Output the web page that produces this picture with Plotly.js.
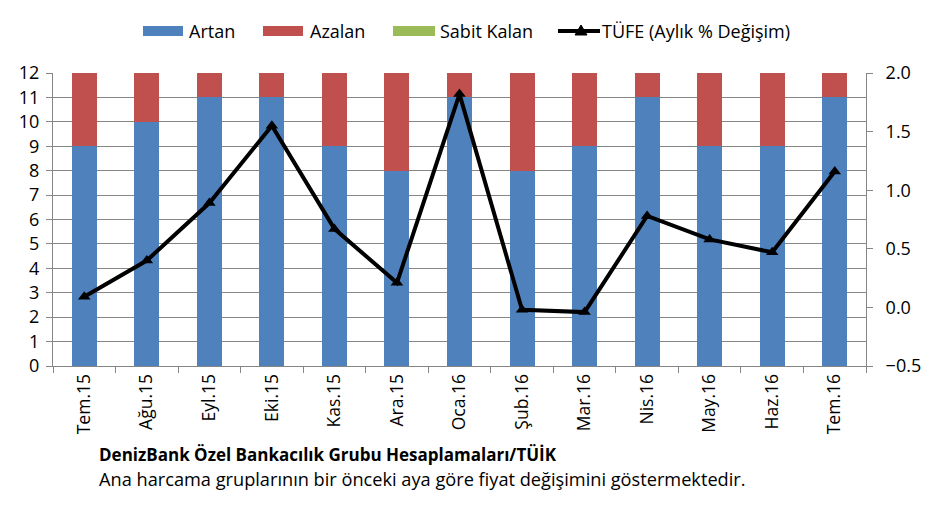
<!DOCTYPE html>
<html>
<head>
<meta charset="utf-8">
<script src="https://cdn.plot.ly/plotly-3.0.1.min.js"></script>
<style>html,body{margin:0;padding:0;background:#fff;}#chart{width:933px;height:525px;}</style>
</head>
<body>
<div id="chart"></div>
<script>
const months = ["Tem.15","Ağu.15","Eyl.15","Eki.15","Kas.15","Ara.15","Oca.16","Şub.16","Mar.16","Nis.16","May.16","Haz.16","Tem.16"];
const artan = [9,10,11,11,9,8,11,8,9,11,9,9,11];
const azalan = [3,2,1,1,3,4,1,4,3,1,3,3,1];
const sabitKalan = [0,0,0,0,0,0,0,0,0,0,0,0,0];
const tufe = [0.09,0.40,0.89,1.55,0.67,0.21,1.82,-0.02,-0.04,0.78,0.58,0.47,1.16];
const seriesNames = ["Artan","Azalan","Sabit Kalan","TÜFE (Aylık % Değişim)"];
const seriesColors = ["#4F81BD","#C0504D","#9BBB59","#000000"];

const FONT = "Open Sans, Noto Sans, sans-serif";
const tickFont = {family: FONT, size: 18, color: "#000"};

// plot area in pixels
const PL = 53, PR = 866, PT = 73, PB = 366;
const px = v => (v - PL) / (PR - PL);
const py = v => (PB - v) / (PB - PT);

const traces = [
  {type:"bar", name:seriesNames[0], x:months, y:artan, marker:{color:seriesColors[0]}},
  {type:"bar", name:seriesNames[1], x:months, y:azalan, marker:{color:seriesColors[1]}},
  {type:"bar", name:seriesNames[2], x:months, y:sabitKalan, marker:{color:seriesColors[2]}},
  {type:"scatter", mode:"lines+markers", name:seriesNames[3], x:months, y:tufe, yaxis:"y2",
   line:{color:seriesColors[3], width:4}, marker:{symbol:"triangle-up", size:11, color:"#000"}}
];

// custom legend (swatches as wide rectangles like the original)
const legendY = 31;
const swatches = [[143,183],[263,303],[393,435]];
const textX = [187,308,438,600];
const shapes = [];
const annotations = [];
swatches.forEach((s,i) => {
  shapes.push({type:"rect", xref:"paper", yref:"paper", x0:px(s[0]), x1:px(s[1]), y0:py(legendY+5), y1:py(legendY-5),
               fillcolor:seriesColors[i], line:{width:0}});
});
shapes.push({type:"line", xref:"paper", yref:"paper", x0:px(558), x1:px(600), y0:py(legendY), y1:py(legendY),
             line:{color:"#000", width:4}});
shapes.push({type:"path", xref:"paper", yref:"paper",
             path:`M ${px(575)} ${py(legendY+4)} L ${px(587)} ${py(legendY+4)} L ${px(581)} ${py(legendY-6)} Z`,
             fillcolor:"#000", line:{color:"#000", width:1}});
seriesNames.forEach((n,i) => {
  annotations.push({xref:"paper", yref:"paper", x:px(textX[i]), y:py(legendY), xanchor:"left", yanchor:"middle",
                    showarrow:false, text:n, font:{family:FONT, size:18, color:"#000"}});
});
annotations.push({xref:"paper", yref:"paper", x:px(97), y:py(454), xanchor:"left", yanchor:"middle", showarrow:false,
  text:"<b>DenizBank Özel Bankacılık Grubu Hesaplamaları/TÜİK</b>", font:{family:FONT, size:17, color:"#000"}});
annotations.push({xref:"paper", yref:"paper", x:px(97), y:py(479), xanchor:"left", yanchor:"middle", showarrow:false,
  text:"Ana harcama gruplarının bir önceki aya göre fiyat değişimini göstermektedir.", font:{family:FONT, size:18.2, color:"#000"}});

const layout = {
  width:933, height:525,
  margin:{l:PL, r:933-PR, t:PT, b:525-PB},
  barmode:"stack", bargap:0.6,
  plot_bgcolor:"#fff", paper_bgcolor:"#fff",
  showlegend:false,
  xaxis:{type:"category", range:[-0.5, months.length-0.5], tickangle:-90, tickfont:{family:FONT, size:17.5, color:"#000"},
         showline:true, linecolor:"#868686", linewidth:1,
         ticks:"outside", tickson:"boundaries", ticklen:6, tickcolor:"#868686", showgrid:false, automargin:false},
  yaxis:{range:[0,12], dtick:1, tickfont:tickFont, showgrid:true, gridcolor:"#868686", gridwidth:1, ticklabelstandoff:3,
         showline:true, linecolor:"#868686", ticks:"outside", ticklen:6, tickcolor:"#868686", zeroline:false, automargin:false},
  yaxis2:{range:[-0.5,2.0], dtick:0.5, tickformat:".1f", overlaying:"y", side:"right", tickfont:tickFont, ticklabelstandoff:9,
          showgrid:false, showline:true, linecolor:"#868686", ticks:"outside", ticklen:6, tickcolor:"#868686", zeroline:false, automargin:false},
  shapes:shapes,
  annotations:annotations
};
Plotly.newPlot("chart", traces, layout, {displayModeBar:false, staticPlot:true});
</script>
</body>
</html>
